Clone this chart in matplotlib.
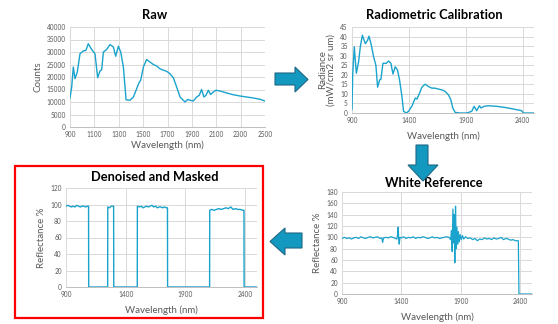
import numpy as np
import matplotlib
matplotlib.use('Agg')
import matplotlib.pyplot as plt
from matplotlib.patches import Polygon, Rectangle

plt.rcParams.update({'font.family': ['Lato', 'DejaVu Sans'], 'axes.unicode_minus': False})

W_PX, H_PX = 558, 324
LINE_COLOR = '#1AA3CC'
GRID_COLOR = '#D9D9D9'
TEXT_COLOR = '#595959'
ARROW_FACE = '#1399BF'
ARROW_EDGE = '#1F6785'
TITLE_SIZE = 9.3
LABEL_SIZE = 7
TICK_SIZE = 4.7

# Raw counts
raw_wl = [900, 914, 927, 941, 960, 982, 1009, 1031, 1050, 1078, 1105, 1127, 1146, 1160, 1174, 1201,
          1228, 1256, 1275, 1297, 1316, 1338, 1360, 1392, 1420, 1447, 1469, 1480, 1502, 1529, 1556,
          1584, 1611, 1638, 1666, 1693, 1720, 1748, 1775, 1803, 1844, 1865, 1885, 1912, 1939, 1961,
          1980, 1999, 2016, 2035, 2054, 2076, 2098, 2131, 2186, 2240, 2295, 2350, 2405, 2459, 2500]
raw_counts = [11700, 16000, 24000, 19300, 22000, 29300, 30400, 30700, 33300, 31000, 29300, 19700,
              22400, 22900, 30000, 31000, 33000, 32000, 28300, 32300, 30000, 24000, 10900, 10700,
              12000, 15300, 18000, 18700, 24000, 27000, 26000, 25000, 24400, 23300, 22700, 22300,
              21300, 19700, 16000, 12000, 10000, 11000, 10700, 10400, 12000, 12700, 15000, 12000,
              12700, 14700, 13000, 14000, 14700, 14400, 13600, 12900, 12400, 12000, 11600, 11100, 10400]

# Radiance after radiometric calibration
rad_wl = [900, 906, 920, 938, 958, 973, 991, 1017, 1037, 1049, 1067, 1090, 1110, 1125, 1143, 1154,
          1172, 1201, 1222, 1242, 1260, 1280, 1300, 1318, 1339, 1353, 1377, 1397, 1426, 1456, 1471,
          1494, 1514, 1543, 1573, 1602, 1631, 1660, 1690, 1719, 1748, 1769, 1786, 1807, 1850, 1909,
          1953, 1973, 1996, 2020, 2034, 2061, 2099, 2172, 2245, 2318, 2392, 2406, 2500]
rad_values = [2, 20, 34.6, 20.8, 26.8, 34.6, 40.7, 36.3, 38, 40.2, 36.3, 29.4, 25, 13.5, 17.3, 17.6,
              26, 26, 27.2, 26, 20.4, 24.2, 22.5, 17.3, 8.7, 0.9, 0, 0.9, 3.5, 7.8, 7.3,
              10.4, 13.5, 15.1, 13.8, 13, 13, 12.5, 12.1, 11.3, 9.5, 6.9, 2.6, 0.3, 0, 0,
              0.9, 3.5, 1.2, 3.8, 2.6, 3.5, 3.8, 3.5, 2.9, 2.1, 1.2, 0, 0]

# White reference reflectance
white_wl = [900, 920, 940, 960, 980, 1000, 1020, 1040, 1060, 1080, 1100, 1120, 1140, 1160, 1180, 1200,
            1220, 1235, 1242, 1250, 1270, 1290, 1310, 1330, 1350, 1362, 1368, 1373, 1378, 1382, 1388,
            1400, 1420, 1440, 1460, 1480, 1500, 1520, 1540, 1560, 1580, 1600, 1620, 1640, 1660, 1680,
            1700, 1720, 1740, 1760, 1780, 1800, 1815, 1822, 1828, 1834, 1840, 1845, 1850, 1856, 1862,
            1868, 1874, 1880, 1888, 1895, 1905, 1915, 1925, 1940, 1960, 1980, 2000, 2020, 2040, 2060,
            2080, 2100, 2120, 2140, 2160, 2180, 2200, 2220, 2240, 2260, 2280, 2300, 2320, 2340, 2360,
            2385, 2390, 2500]
white_values = [98, 100, 98, 99, 97, 99, 100, 98, 101, 99, 98, 100, 101, 99, 100, 101,
                98, 99, 91, 99, 100, 99, 101, 100, 98, 97, 104, 118, 95, 88, 100,
                99, 101, 98, 100, 99, 101, 98, 100, 99, 101, 100, 98, 99, 101, 99,
                100, 98, 99, 100, 101, 100, 96, 112, 75, 150, 90, 140, 55, 155, 80,
                118, 88, 110, 92, 105, 96, 103, 97, 101, 98, 99, 96, 98, 94, 97,
                96, 99, 97, 98, 96, 99, 97, 98, 100, 96, 98, 97, 95, 96, 94,
                94, 0, 0]

# Denoised and masked reflectance
den_wl = [900, 915, 930, 945, 960, 975, 990, 1005, 1020, 1035, 1050, 1065, 1080, 1089, 1090, 1249,
          1250, 1265, 1280, 1299, 1300, 1497, 1498, 1515, 1530, 1545, 1560, 1575, 1590, 1605, 1620,
          1635, 1650, 1665, 1680, 1695, 1710, 1725, 1740, 1750, 1751, 2103, 2104, 2120, 2140, 2160,
          2180, 2200, 2220, 2240, 2260, 2280, 2300, 2320, 2340, 2360, 2380, 2391, 2392, 2500]
den_values = [98, 99, 98, 97, 98, 97, 99, 98, 97, 98, 98, 97, 98, 98, 0, 0,
              97, 96, 98, 98, 0, 0, 98, 97, 98, 96, 97, 98, 97, 98, 99,
              97, 98, 96, 97, 97, 96, 97, 96, 96, 0, 0, 93, 94, 93, 94,
              95, 94, 95, 96, 95, 97, 94, 95, 94, 94, 93, 93, 0, 0]


def px_rect(left, right, top, bottom):
    return [left / W_PX, 1 - bottom / H_PX, (right - left) / W_PX, (bottom - top) / H_PX]


def style_axes(ax, xticks, yticks, ylim):
    ax.set_xlim(900, 2500)
    ax.set_ylim(*ylim)
    ax.set_xticks(xticks)
    ax.set_yticks(yticks)
    ax.grid(True, color=GRID_COLOR, linewidth=0.7)
    ax.set_axisbelow(True)
    for name, spine in ax.spines.items():
        spine.set_visible(name == 'bottom')
    ax.spines['bottom'].set_color('#BFBFBF')
    ax.spines['bottom'].set_linewidth(0.7)
    ax.tick_params(length=0, labelsize=TICK_SIZE, labelcolor=TEXT_COLOR, pad=3)


fig = plt.figure(figsize=(W_PX / 100, H_PX / 100), dpi=100)

ax1 = fig.add_axes(px_rect(70, 265, 27, 127))
ax1.plot(raw_wl, raw_counts, color=LINE_COLOR, linewidth=1.0)
style_axes(ax1, range(900, 2501, 200), range(0, 40001, 5000), (0, 40000))
ax1.set_ylabel('Counts', fontsize=LABEL_SIZE, color=TEXT_COLOR, labelpad=3)
ax1.set_xlabel('Wavelength (nm)', fontsize=LABEL_SIZE, color=TEXT_COLOR, labelpad=2)

ax2 = fig.add_axes(px_rect(352, 534, 27, 113))
ax2.plot(rad_wl, rad_values, color=LINE_COLOR, linewidth=1.0)
style_axes(ax2, [900, 1400, 1900, 2400], range(0, 46, 5), (0, 45))
ax2.set_ylabel('Radiance\n(mW/cm2 sr um)', fontsize=LABEL_SIZE, color=TEXT_COLOR, labelpad=3, linespacing=1.0)
ax2.set_xlabel('Wavelength (nm)', fontsize=LABEL_SIZE, color=TEXT_COLOR, labelpad=5)

ax3 = fig.add_axes(px_rect(66, 257, 188, 287))
ax3.plot(den_wl, den_values, color=LINE_COLOR, linewidth=1.0)
style_axes(ax3, [900, 1400, 1900, 2400], range(0, 121, 20), (0, 120))
ax3.set_ylabel('Reflectance %', fontsize=LABEL_SIZE, color=TEXT_COLOR, labelpad=3)
ax3.set_xlabel('Wavelength (nm)', fontsize=LABEL_SIZE, color=TEXT_COLOR, labelpad=5)

ax4 = fig.add_axes(px_rect(342, 532, 192, 294))
ax4.plot(white_wl, white_values, color=LINE_COLOR, linewidth=0.9)
style_axes(ax4, [900, 1400, 1900, 2400], range(0, 181, 20), (0, 180))
ax4.set_ylabel('Reflectance %', fontsize=LABEL_SIZE, color=TEXT_COLOR, labelpad=3)
ax4.set_xlabel('Wavelength (nm)', fontsize=LABEL_SIZE, color=TEXT_COLOR, labelpad=5)

# overlay in pixel space for titles, arrows and highlight box
ov = fig.add_axes([0, 0, 1, 1], zorder=10)
ov.set_xlim(0, W_PX)
ov.set_ylim(H_PX, 0)
ov.axis('off')
ov.patch.set_alpha(0)

for x, y, title in [(155, 15, 'Raw'), (434, 15, 'Radiometric Calibration'),
                    (155, 177, 'Denoised and Masked'), (434, 183, 'White Reference')]:
    ov.text(x, y, title, fontsize=TITLE_SIZE, fontweight='bold', ha='center', va='center', color='black', zorder=3)

arrows = [
    [(275, 73), (295, 73), (295, 67), (308, 79.5), (295, 92), (295, 85), (275, 85)],
    [(416, 145), (428, 145), (428, 165), (438, 165), (423, 181), (408, 165), (416, 165)],
    [(302, 233), (285, 233), (285, 228), (270, 241.5), (285, 255), (285, 248), (302, 248)],
]
for pts in arrows:
    ov.add_patch(Polygon(pts, closed=True, facecolor=ARROW_FACE, edgecolor=ARROW_EDGE, linewidth=0.8, zorder=5))

ov.add_patch(Rectangle((15, 166), 248, 152, fill=False, edgecolor='#FF0000', linewidth=1.6))

fig.savefig('out.png', dpi=100)
